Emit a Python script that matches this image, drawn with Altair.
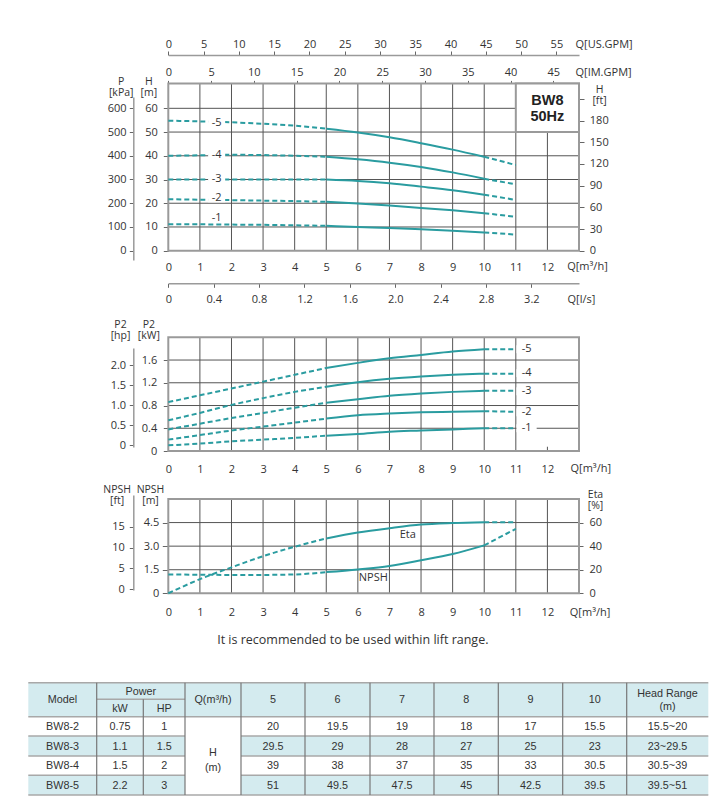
import altair as alt
import pandas as pd

# ---------------- values ----------------
Q = [0, 1, 2, 3, 4, 5, 6, 7, 8, 9, 10, 11]
STAGES = ["-1", "-2", "-3", "-4", "-5"]

H_1 = [11.1, 11.1, 11.0, 10.9, 10.7, 10.5, 10.0, 9.6, 9.0, 8.4, 7.7, 6.8]
H_2 = [21.7, 21.5, 21.3, 21.1, 20.9, 20.6, 19.9, 19.0, 18.0, 17.0, 15.8, 14.3]
H_3 = [30.0, 30.0, 30.0, 30.0, 30.0, 30.0, 29.4, 28.4, 27.0, 25.5, 23.6, 21.4]
H_4 = [40.0, 40.2, 40.4, 40.3, 40.0, 39.6, 38.5, 37.1, 35.3, 33.0, 30.3, 28.0]
H_5 = [54.8, 54.5, 54.1, 53.5, 52.7, 51.4, 49.8, 47.8, 45.3, 42.6, 39.6, 36.1]

P2_1 = [0.10, 0.13, 0.17, 0.20, 0.23, 0.27, 0.30, 0.34, 0.36, 0.38, 0.40, 0.40]
P2_2 = [0.20, 0.28, 0.36, 0.43, 0.50, 0.57, 0.63, 0.66, 0.68, 0.69, 0.70, 0.69]
P2_3 = [0.38, 0.48, 0.58, 0.67, 0.76, 0.85, 0.91, 0.97, 1.01, 1.04, 1.06, 1.06]
P2_4 = [0.54, 0.67, 0.81, 0.93, 1.04, 1.13, 1.21, 1.27, 1.31, 1.34, 1.36, 1.36]
P2_5 = [0.86, 0.98, 1.10, 1.22, 1.34, 1.46, 1.55, 1.63, 1.69, 1.75, 1.79, 1.79]

NPSH_M = [1.20, 1.18, 1.17, 1.17, 1.20, 1.35, 1.52, 1.74, 2.10, 2.50, 3.05, 4.10]
ETA_PCT = [0.0, 12.0, 22.0, 31.5, 39.5, 46.5, 51.5, 55.2, 58.3, 59.6, 60.3, 60.3]

# curve labels
TOP_LABEL_Q = 1.53
TOP_LABEL_H = [13.6, 22.0, 30.4, 40.3, 54.0]
MID_LABEL_Q = 11.34
MID_LABEL_KW = [0.40, 0.68, 1.05, 1.37, 1.79]
BOT_LABELS = ["Eta", "NPSH"]
BOT_LABEL_Q = [7.58, 6.49]
BOT_LABEL_NPSH = [3.71, 0.99]

# axes ticks
Q_TICKS = list(range(0, 13))
US_GPM_TICKS = list(range(0, 60, 5))
IM_GPM_TICKS = list(range(0, 50, 5))
LS_TICKS = [0, 0.4, 0.8, 1.2, 1.6, 2.0, 2.4, 2.8, 3.2]
P_TICKS = [0, 100, 200, 300, 400, 500, 600]
H_TICKS = [0, 10, 20, 30, 40, 50, 60]
HFT_TICKS = [0, 30, 60, 90, 120, 150, 180, 210]
KW_TICKS = [0, 0.4, 0.8, 1.2, 1.6]
HP_TICKS = [0, 0.5, 1.0, 1.5, 2.0]
NPSHM_TICKS = [0, 1.5, 3.0, 4.5]
NPSHFT_TICKS = [0, 5, 10, 15]
ETA_TICKS = [0, 20, 40, 60]

# table
T_MODELS = ["BW8-2", "BW8-3", "BW8-4", "BW8-5"]
T_KW = ["0.75", "1.1", "1.5", "2.2"]
T_HP = ["1", "1.5", "2", "3"]
T_FLOWS = ["5", "6", "7", "8", "9", "10"]
T_H2 = ["20", "19.5", "19", "18", "17", "15.5"]
T_H3 = ["29.5", "29", "28", "27", "25", "23"]
T_H4 = ["39", "38", "37", "35", "33", "30.5"]
T_H5 = ["51", "49.5", "47.5", "45", "42.5", "39.5"]
T_RANGE = ["15.5~20", "23~29.5", "30.5~39", "39.5~51"]

# ---------------- layout / style ----------------
VIEW_W, VIEW_H = 707, 793
TEAL = "#2a9ca0"
GRID = "#555555"
FRAME = "#9a9a9a"
TXT = "#333333"
FONT = "Open Sans"
TFONT = "Liberation Sans"
BLUE = "#d4ebef"

Q_MAX = 13
QX = [160.3, 571.0]
H_MAX, TOP_Y = 70.5, [242.7, 75.4]
KW_MAX, MID_Y = 2.0, [443.0, 329.3]
NP_MAX, BOT_Y = 6.0, [585.3, 491.0]
ETA_MAX = 80.0

# secondary flow axes as drawn in the reference (end of each axis at Q = 13 m3/h)
US_END = 58.2
IM_END = 48.0
LS_END = 3.62
FT = 1 / 0.3048


def lin(domain, rng):
    return alt.Scale(domain=domain, range=rng, nice=False, zero=False)


def qs():
    return lin([0, Q_MAX], QX)


def hs():
    return lin([0, H_MAX], TOP_Y)


def kws():
    return lin([0, KW_MAX], MID_Y)


def nps():
    return lin([0, NP_MAX], BOT_Y)


def etas():
    return lin([0, ETA_MAX], BOT_Y)


def vrules(qv, lo, hi, ysc, color=GRID, width=1.0):
    df = pd.DataFrame({"q": qv, "lo": lo, "hi": hi})
    return alt.Chart(df).mark_rule(color=color, strokeWidth=width).encode(
        x=alt.X("q:Q", scale=qs(), axis=None),
        y=alt.Y("lo:Q", scale=ysc, axis=None), y2="hi:Q")


def hrules(vv, ysc, color=GRID, width=1.0):
    df = pd.DataFrame({"v": vv, "lo": 0, "hi": Q_MAX})
    return alt.Chart(df).mark_rule(color=color, strokeWidth=width).encode(
        x=alt.X("lo:Q", scale=qs(), axis=None), x2="hi:Q",
        y=alt.Y("v:Q", scale=ysc, axis=None))


def box(q0, q1, v0, v1, ysc, fill="transparent", stroke=FRAME, width=2.0):
    df = pd.DataFrame({"q0": [q0], "q1": [q1], "v0": [v0], "v1": [v1]})
    return alt.Chart(df).mark_rect(fill=fill, stroke=stroke, strokeWidth=width).encode(
        x=alt.X("q0:Q", scale=qs(), axis=None), x2="q1:Q",
        y=alt.Y("v0:Q", scale=ysc, axis=None), y2="v1:Q")


def curve_layers(series, ysc):
    rows = []
    for name, vals in series:
        for q, v in zip(Q, vals):
            if q <= 5:
                rows.append({"seg": name + "a", "dash": 1, "q": q, "v": v})
            if q >= 10:
                rows.append({"seg": name + "b", "dash": 1, "q": q, "v": v})
            if 5 <= q <= 10:
                rows.append({"seg": name + "s", "dash": 0, "q": q, "v": v})
    df = pd.DataFrame(rows)
    base = alt.Chart(df).encode(
        x=alt.X("q:Q", scale=qs(), axis=None),
        y=alt.Y("v:Q", scale=ysc, axis=None),
        detail="seg:N")
    dashed = base.transform_filter("datum.dash == 1").mark_line(
        color=TEAL, strokeWidth=2, strokeDash=[5, 3], interpolate="monotone")
    solid = base.transform_filter("datum.dash == 0").mark_line(
        color=TEAL, strokeWidth=2, interpolate="monotone")
    return [dashed, solid]


def labels(texts, qv, vv, ysc, pad_q, pad_v, with_bg):
    df = pd.DataFrame({"t": texts, "q": qv, "v": vv})
    df["q0"] = df["q"] - pad_q
    df["q1"] = df["q"] + pad_q
    df["v0"] = df["v"] - pad_v
    df["v1"] = df["v"] + pad_v
    out = []
    if with_bg:
        out.append(alt.Chart(df).mark_rect(fill="white").encode(
            x=alt.X("q0:Q", scale=qs(), axis=None), x2="q1:Q",
            y=alt.Y("v0:Q", scale=ysc, axis=None), y2="v1:Q"))
    out.append(alt.Chart(df).mark_text(font=FONT, fontSize=11, color=TXT).encode(
        x=alt.X("q:Q", scale=qs(), axis=None),
        y=alt.Y("v:Q", scale=ysc, axis=None), text="t:N"))
    return out


def x_carrier(values, scale, axis):
    return alt.Chart(pd.DataFrame({"v": values})).mark_point(opacity=0).encode(
        x=alt.X("v:Q", scale=scale, axis=axis))


def y_carrier(values, scale, axis):
    return alt.Chart(pd.DataFrame({"v": values})).mark_point(opacity=0).encode(
        y=alt.Y("v:Q", scale=scale, axis=axis))


FMT1 = "datum.value == 0 ? '0' : format(datum.value, '.1f')"


def qaxis(offset, pad, tx, ty):
    return alt.Axis(orient="bottom", offset=offset, values=Q_TICKS, ticks=False, tickSize=0,
                    domain=False, labelPadding=pad, labelBaseline="middle",
                    title="Q[m³/h]", titleX=tx, titleY=ty, titleAlign="left",
                    titleBaseline="middle")


def ytitle(lines, tx, ty):
    # ty is the position of the first title line
    return dict(title=lines, titleX=tx, titleY=ty, titleAngle=0, titleAlign="center",
                titleBaseline="middle", titleLineHeight=11, titleFontSize=10.5)


layers = []

# ---------- top panel: head ----------
layers.append(vrules(list(range(1, 13)), 0, H_MAX, hs()))
layers.append(hrules(H_TICKS[1:], hs()))
layers.append(box(0, Q_MAX, 0, H_MAX, hs()))
layers.append(box(11, 13, 50, H_MAX, hs(), fill="white"))
layers.append(alt.Chart(pd.DataFrame({"t": ["BW8", "50Hz"], "q": [12, 12], "v": [63.2, 56.2]}))
              .mark_text(font=TFONT, fontSize=14.5, fontWeight="bold", color="#222222")
              .encode(x=alt.X("q:Q", scale=qs(), axis=None),
                      y=alt.Y("v:Q", scale=hs(), axis=None), text="t:N"))
layers += curve_layers(list(zip(STAGES, [H_1, H_2, H_3, H_4, H_5])), hs())
layers += labels(STAGES, [TOP_LABEL_Q] * 5, TOP_LABEL_H, hs(), 0.27, 1.6, True)

# ---------- middle panel: power ----------
layers.append(vrules(list(range(1, 12)), 0, KW_MAX, kws()))
layers.append(vrules([12], 0, 0.075, kws()))
layers.append(hrules(KW_TICKS[1:], kws()))
layers.append(box(0, Q_MAX, 0, KW_MAX, kws()))
layers += curve_layers(list(zip(STAGES, [P2_1, P2_2, P2_3, P2_4, P2_5])), kws())
layers += labels(STAGES, [MID_LABEL_Q] * 5, MID_LABEL_KW, kws(), 0.32, 0.07, True)

# ---------- bottom panel: NPSH / Eta ----------
layers.append(vrules(list(range(1, 13)), 0, NP_MAX, nps()))
layers.append(hrules(NPSHM_TICKS[1:], nps()))
layers.append(box(0, Q_MAX, 0, NP_MAX, nps()))
layers += curve_layers([("npsh", NPSH_M)], nps())
layers += curve_layers([("eta", ETA_PCT)], etas())
layers += labels(BOT_LABELS, BOT_LABEL_Q, BOT_LABEL_NPSH, nps(), 0.3, 0.3, False)

# ---------- axes ----------
layers.append(x_carrier(US_GPM_TICKS, lin([0, US_END], QX), alt.Axis(
    orient="top", offset=-47, values=US_GPM_TICKS, tickSize=4, labelPadding=6.4,
    labelBaseline="middle", domain=True, domainColor=FRAME, domainWidth=1.5,
    title="Q[US.GPM]", titleX=567, titleY=-11, titleAlign="left", titleBaseline="middle")))
layers.append(x_carrier(IM_GPM_TICKS, lin([0, IM_END], QX), alt.Axis(
    orient="top", offset=-TOP_Y[1], values=IM_GPM_TICKS, tickSize=3, labelPadding=8,
    labelBaseline="middle", domain=False,
    title="Q[IM.GPM]", titleX=567, titleY=-11.3, titleAlign="left", titleBaseline="middle")))
layers.append(x_carrier(Q_TICKS, qs(), qaxis(TOP_Y[0] - VIEW_H, 16.6, 558.7, 16)))
layers.append(x_carrier(LS_TICKS, lin([0, LS_END], QX), alt.Axis(
    orient="bottom", offset=275.3 - VIEW_H, values=LS_TICKS, tickSize=4, labelPadding=12.6,
    labelBaseline="middle", domain=True, domainColor=FRAME, domainWidth=1.5, labelExpr=FMT1,
    title="Q[l/s]", titleX=559, titleY=16, titleAlign="left", titleBaseline="middle")))
layers.append(x_carrier(Q_TICKS, qs(), qaxis(MID_Y[0] - VIEW_H, 18, 562, 17.3)))
layers.append(x_carrier(Q_TICKS, qs(), qaxis(BOT_Y[0] - VIEW_H, 19.6, 561.3, 19)))

# P [kPa]: axis line spans page y 97..260
layers.append(y_carrier(P_TICKS, lin([-39.2, 647.6], [252, 89]), alt.Axis(
    orient="left", offset=-125.3, values=P_TICKS, tickSize=4, labelPadding=3.3,
    domain=True, domainColor=FRAME, domainWidth=1.5, **ytitle(["P", "[kPa]"], -12.6, 73.5))))
layers.append(y_carrier(H_TICKS, hs(), alt.Axis(
    orient="left", offset=-QX[0], values=H_TICKS, tickSize=5, labelPadding=6,
    domain=False, **ytitle(["H", "[m]"], -20, 73.5))))
layers.append(y_carrier(HFT_TICKS, lin([0, H_MAX * FT], TOP_Y), alt.Axis(
    orient="right", offset=QX[1] - VIEW_W, values=HFT_TICKS, tickSize=5, labelPadding=5.3,
    domain=False, labelExpr="datum.value == 210 ? '' : datum.value",
    **ytitle(["H", "[ft]"], 20, 81.0))))
layers.append(y_carrier(HP_TICKS, lin([-0.05, 2.425], [439, 340]), alt.Axis(
    orient="left", offset=-125.3, values=HP_TICKS, tickSize=4, labelPadding=3.7,
    domain=True, domainColor=FRAME, domainWidth=1.5, labelExpr=FMT1,
    **ytitle(["P2", "[hp]"], -13.3, 316.0))))
layers.append(y_carrier(KW_TICKS, kws(), alt.Axis(
    orient="left", offset=-QX[0], values=KW_TICKS, tickSize=5, labelPadding=6.6,
    domain=False, labelExpr=FMT1, **ytitle(["P2", "[kW]"], -20, 316.0))))
layers.append(y_carrier(NPSHFT_TICKS, lin([-0.24, 22.65], [582, 487]), alt.Axis(
    orient="left", offset=-125.3, values=NPSHFT_TICKS, tickSize=4, labelPadding=5,
    domain=True, domainColor=FRAME, domainWidth=1.5,
    **ytitle(["NPSH", "[ft]"], -16.6, 481.0))))
layers.append(y_carrier(NPSHM_TICKS, nps(), alt.Axis(
    orient="left", offset=-QX[0], values=NPSHM_TICKS, tickSize=6, labelPadding=3.5,
    domain=False, labelExpr=FMT1, **ytitle(["NPSH", "[m]"], -18.3, 481.0))))
layers.append(y_carrier(ETA_TICKS, etas(), alt.Axis(
    orient="right", offset=QX[1] - VIEW_W, values=ETA_TICKS, tickSize=4, labelPadding=6,
    domain=False, **ytitle(["Eta", "[%]"], 16, 486.5))))

# ---------- caption ----------
layers.append(alt.Chart(pd.DataFrame({"t": ["It is recommended to be used within lift range."]}))
              .mark_text(font=FONT, fontSize=12.5, color=TXT)
              .encode(x=alt.value(344.8), y=alt.value(632), text="t:N"))

# ---------- table ----------
COL_W = [68.4, 46.6, 41.7, 56.0, 64.0, 65.0, 64.0, 64.3, 64.4, 64.0, 81.6]
EDGES = [0.0]
for w in COL_W:
    EDGES.append(round(EDGES[-1] + w, 2))
ROW_EDGES = [0, 16.6, 34.0, 53.3, 73.3, 92.6, 112.3]
TW = EDGES[-1]


def txs():
    return lin([0, TW], [20.3, 700.3])


def tys():
    return lin([0, 112.3], [674.7, 787.0])


fills = [dict(x0=0, x1=TW, y0=0, y1=34, f=BLUE)]
for i in range(4):
    col = "white" if i % 2 == 0 else BLUE
    y0, y1 = ROW_EDGES[2 + i], ROW_EDGES[3 + i]
    fills.append(dict(x0=0, x1=EDGES[3], y0=y0, y1=y1, f=col))
    fills.append(dict(x0=EDGES[4], x1=TW, y0=y0, y1=y1, f=col))
fills.append(dict(x0=EDGES[3], x1=EDGES[4], y0=34, y1=112.3, f="white"))
fdf = pd.DataFrame(fills)
layers.append(alt.Chart(fdf).mark_rect().encode(
    x=alt.X("x0:Q", scale=txs(), axis=None), x2="x1:Q",
    y=alt.Y("y0:Q", scale=tys(), axis=None), y2="y1:Q",
    color=alt.Color("f:N", scale=None)))


def cx(c0, c1=None):
    c1 = c0 if c1 is None else c1
    return (EDGES[c0] + EDGES[c1 + 1]) / 2


texts = [
    (cx(0), 17.5, "Model"), (cx(1, 2), 8.8, "Power"), (cx(1), 25.8, "kW"), (cx(2), 25.8, "HP"),
    (cx(3), 17.5, "Q(m³/h)"), (cx(10), 11.3, "Head Range"), (cx(10), 24.6, "(m)"),
    (cx(3), 70.6, "H"), (cx(3), 85.6, "(m)"),
]
for j, f in enumerate(T_FLOWS):
    texts.append((cx(4 + j), 17.5, f))
for i, (m, kw, hp, hv, rg) in enumerate(zip(T_MODELS, T_KW, T_HP, [T_H2, T_H3, T_H4, T_H5], T_RANGE)):
    yc = (ROW_EDGES[2 + i] + ROW_EDGES[3 + i]) / 2 + 0.5
    texts += [(cx(0), yc, m), (cx(1), yc, kw), (cx(2), yc, hp), (cx(10), yc, rg)]
    for j, h in enumerate(hv):
        texts.append((cx(4 + j), yc, h))
tdf = pd.DataFrame(texts, columns=["x", "y", "t"])
layers.append(alt.Chart(tdf).mark_text(font=TFONT, fontSize=10.8, color=TXT).encode(
    x=alt.X("x:Q", scale=txs(), axis=None),
    y=alt.Y("y:Q", scale=tys(), axis=None), text="t:N"))

hl = [dict(x0=0, x1=TW, y=0), dict(x0=EDGES[1], x1=EDGES[3], y=16.6), dict(x0=0, x1=TW, y=34)]
for y in ROW_EDGES[3:6]:
    hl.append(dict(x0=0, x1=EDGES[3], y=y))
    hl.append(dict(x0=EDGES[4], x1=TW, y=y))
hl.append(dict(x0=0, x1=TW, y=112.3))
hdf = pd.DataFrame(hl)
layers.append(alt.Chart(hdf).mark_rule(color="#a8a8a8", strokeWidth=1.5).encode(
    x=alt.X("x0:Q", scale=txs(), axis=None), x2="x1:Q",
    y=alt.Y("y:Q", scale=tys(), axis=None)))

vl = [dict(x=EDGES[k], y0=0, y1=112.3) for k in range(1, 11) if k != 2]
vl.append(dict(x=EDGES[2], y0=16.6, y1=112.3))
vdf = pd.DataFrame(vl)
layers.append(alt.Chart(vdf).mark_rule(color="#777777", strokeWidth=1.2).encode(
    x=alt.X("x:Q", scale=txs(), axis=None),
    y=alt.Y("y0:Q", scale=tys(), axis=None), y2="y1:Q"))

chart = (
    alt.layer(*layers)
    .resolve_scale(x="independent", y="independent")
    .properties(width=VIEW_W, height=VIEW_H, padding=0, autosize="none")
    .configure_view(strokeWidth=0)
    .configure_axis(labelFont=FONT, labelFontSize=11, labelColor=TXT, titleFont=FONT,
                    titleFontSize=11, titleFontWeight="normal", titleColor=TXT,
                    tickColor="#666666", tickWidth=1, grid=False, labelFlush=False,
                    labelOverlap=False)
)

chart.save("out.html", embed_options={"renderer": "svg", "actions": False})
